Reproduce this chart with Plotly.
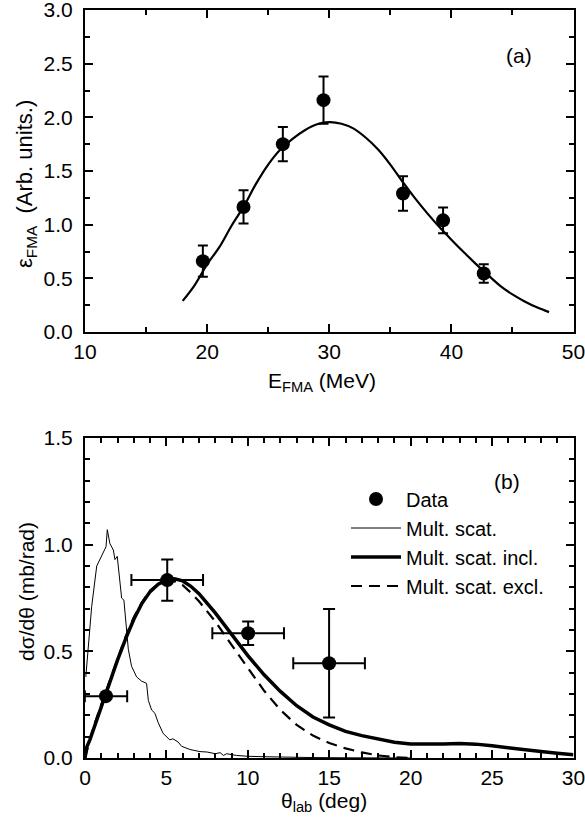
import plotly.graph_objects as go

# ---------------- Panel (a) data ----------------
e_fma = [19.65, 22.98, 26.2, 29.53, 36.04, 39.32, 42.65]
eps_fma = [0.66, 1.165, 1.75, 2.16, 1.29, 1.04, 0.545]
eps_err = [0.145, 0.155, 0.16, 0.22, 0.16, 0.12, 0.087]

fit_e = [18, 19, 20, 21, 22, 23, 24, 25, 26, 27, 28, 29, 30, 31, 32, 33,
         34, 35, 36, 37, 38, 39, 40, 41, 42, 43, 44, 45, 46, 47, 48]
fit_eps = [0.29, 0.44, 0.63, 0.79, 0.99, 1.17, 1.38, 1.56, 1.70, 1.80, 1.88,
           1.935, 1.955, 1.94, 1.895, 1.81, 1.70, 1.56, 1.40, 1.25, 1.11,
           0.98, 0.86, 0.745, 0.635, 0.53, 0.43, 0.35, 0.285, 0.23, 0.185]

# ---------------- Panel (b) data ----------------
theta_data = [1.29, 5.05, 10.02, 14.99]
dsig_data = [0.29, 0.834, 0.585, 0.444]
theta_err = [1.3, 2.2, 2.2, 2.2]
dsig_err = [0.0, 0.097, 0.055, 0.254]

theta_ms = [0.05, 0.41, 0.72, 0.92, 1.12, 1.29, 1.37, 1.53, 1.74, 1.84, 1.98,
            2.09, 2.25, 2.39, 2.52, 2.66, 2.86, 3.17, 3.48, 3.78, 3.89, 4.09,
            4.29, 4.5, 4.8, 5.21, 5.4, 5.72, 5.93, 6.44, 7.06, 7.5, 8.0, 8.3,
            8.5, 8.7, 9.3, 10, 11, 12, 14, 16, 20]
ms = [0.38, 0.71, 0.90, 0.93, 0.96, 0.99, 1.07, 1.005, 0.975, 0.93, 0.945,
      0.85, 0.75, 0.74, 0.63, 0.51, 0.43, 0.38, 0.36, 0.35, 0.27, 0.225,
      0.21, 0.165, 0.115, 0.085, 0.09, 0.075, 0.055, 0.04, 0.03, 0.028, 0.02,
      0.025, 0.012, 0.02, 0.012, 0.008, 0.006, 0.004, 0.002, 0.001, 0.0]

theta_inc = [0, 0.1, 0.3, 0.5, 1, 1.5, 2, 2.5, 3, 3.5, 4, 4.5, 5, 5.5, 6, 6.5,
             7, 8, 9, 10, 11, 12, 13, 14, 15, 16, 17, 17.5, 18, 18.5, 19, 20,
             21, 22, 23, 24, 25, 26, 27, 28, 29, 30]
ms_incl = [0, 0.05, 0.085, 0.13, 0.235, 0.35, 0.46, 0.56, 0.65, 0.725, 0.78,
           0.815, 0.835, 0.84, 0.83, 0.805, 0.77, 0.68, 0.58, 0.48, 0.39,
           0.312, 0.245, 0.192, 0.155, 0.125, 0.105, 0.098, 0.088, 0.083,
           0.074, 0.066, 0.065, 0.066, 0.068, 0.065, 0.057, 0.047, 0.038,
           0.03, 0.022, 0.015]

theta_exc = [0, 0.5, 1, 1.5, 2, 2.5, 3, 3.5, 4, 4.5, 5, 5.5, 6, 6.5, 7, 7.5,
             8, 9, 10, 11, 12, 13, 14, 15, 16, 17, 18, 19, 20]
ms_excl = [0, 0.14, 0.25, 0.36, 0.47, 0.57, 0.66, 0.73, 0.785, 0.815, 0.83,
           0.828, 0.81, 0.775, 0.735, 0.69, 0.64, 0.53, 0.42, 0.315, 0.225,
           0.155, 0.105, 0.07, 0.045, 0.026, 0.012, 0.004, 0.0]

FONT = "Liberation Sans, Arial, Helvetica, sans-serif"
W, H = 585, 823

fig = go.Figure()

# Panel (a)
fig.add_trace(go.Scatter(x=fit_e, y=fit_eps, mode="lines", line=dict(color="black", width=2.2, shape="spline"),
                         showlegend=False, xaxis="x", yaxis="y"))
fig.add_trace(go.Scatter(x=e_fma, y=eps_fma, mode="markers",
                         marker=dict(color="black", size=14),
                         error_y=dict(type="data", array=eps_err, color="black", thickness=2, width=5),
                         showlegend=False, xaxis="x", yaxis="y"))

# Panel (b)
fig.add_trace(go.Scatter(x=theta_ms, y=ms, mode="lines", name="Mult. scat.",
                         line=dict(color="black", width=1), legendrank=2,
                         xaxis="x2", yaxis="y2"))
fig.add_trace(go.Scatter(x=theta_inc, y=ms_incl, mode="lines", name="Mult. scat. incl.",
                         line=dict(color="black", width=3.5), legendrank=3,
                         xaxis="x2", yaxis="y2"))
fig.add_trace(go.Scatter(x=theta_exc, y=ms_excl, mode="lines", name="Mult. scat. excl.",
                         line=dict(color="black", width=2.2, dash="11px,7px"), legendrank=4,
                         xaxis="x2", yaxis="y2"))
fig.add_trace(go.Scatter(x=theta_data, y=dsig_data, mode="markers", name="Data",
                         marker=dict(color="black", size=14),
                         error_y=dict(type="data", array=dsig_err, color="black", thickness=2, width=6),
                         error_x=dict(type="data", array=theta_err, color="black", thickness=2, width=6),
                         legendrank=1, xaxis="x2", yaxis="y2"))

axis_common = dict(showline=True, linecolor="black", linewidth=2, mirror="ticks",
                   ticks="inside", ticklen=8, tickwidth=2, tickcolor="black",
                   showgrid=False, zeroline=False, automargin=False,
                   ticklabeloverflow="allow",
                   tickfont=dict(family=FONT, size=21, color="black"))

x0, x1 = 85 / W, 573.5 / W
fig.update_layout(
    width=W, height=H, margin=dict(l=0, r=0, t=0, b=0, autoexpand=False),
    paper_bgcolor="white", plot_bgcolor="white",
    font=dict(family=FONT, size=21, color="black"),
    xaxis=dict(domain=[x0, x1], range=[10, 50], dtick=10, tick0=10, anchor="y",
               minor=dict(ticks="inside", ticklen=5, tickwidth=2, dtick=5, tickcolor="black"),
               ticklabelstandoff=0, **axis_common),
    yaxis=dict(domain=[1 - 332 / H, 1 - 10 / H], range=[0, 3], dtick=0.5, tick0=0, anchor="x",
               tickformat=".1f",
               minor=dict(ticks="inside", ticklen=5, tickwidth=2, dtick=0.25, tickcolor="black"),
               ticklabelstandoff=6, **axis_common),
    xaxis2=dict(domain=[x0, x1], range=[0, 30], dtick=5, tick0=0, anchor="y2",
                minor=dict(ticks="inside", ticklen=5, tickwidth=2, dtick=1, tickcolor="black"),
                ticklabelstandoff=0, **axis_common),
    yaxis2=dict(domain=[1 - 758 / H, 1 - 438 / H], range=[0, 1.5], dtick=0.5, tick0=0, anchor="x2",
                tickformat=".1f",
                minor=dict(ticks="inside", ticklen=5, tickwidth=2, dtick=0.1, tickcolor="black"),
                ticklabelstandoff=6, **axis_common),
    legend=dict(x=346 / W, y=1 - 479.5 / H, xanchor="left", yanchor="top",
                bgcolor="rgba(0,0,0,0)", font=dict(family=FONT, size=20, color="black"),
                itemwidth=50, tracegroupgap=0, traceorder="normal"),
    showlegend=True,
)

ann_font = dict(family=FONT, size=21, color="black")
title_font = dict(family=FONT, size=22, color="black")
common_ann = dict(showarrow=False, xanchor="center", yanchor="middle")
fig.add_annotation(text="(a)", x=45.5, y=2.58, xref="x", yref="y", font=ann_font, **common_ann)
fig.add_annotation(text="(b)", x=25.9, y=1.295, xref="x2", yref="y2", font=ann_font, **common_ann)
fig.add_annotation(text="E<sub>FMA</sub> (MeV)", x=322 / W, y=1 - 382 / H,
                   xref="paper", yref="paper", font=ann_font, **common_ann)
fig.add_annotation(text="θ<sub>lab</sub> (deg)", x=324 / W, y=1 - 802 / H,
                   xref="paper", yref="paper", font=ann_font, **common_ann)
fig.add_annotation(text="ε<sub>FMA</sub>  (Arb. units.)", x=26 / W, y=1 - 184 / H, textangle=-90,
                   xref="paper", yref="paper", font=title_font, **common_ann)
fig.add_annotation(text="dσ/dθ (mb/rad)", x=26 / W, y=1 - 592 / H, textangle=-90,
                   xref="paper", yref="paper", font=ann_font, **common_ann)

fig.write_html("out.html")
